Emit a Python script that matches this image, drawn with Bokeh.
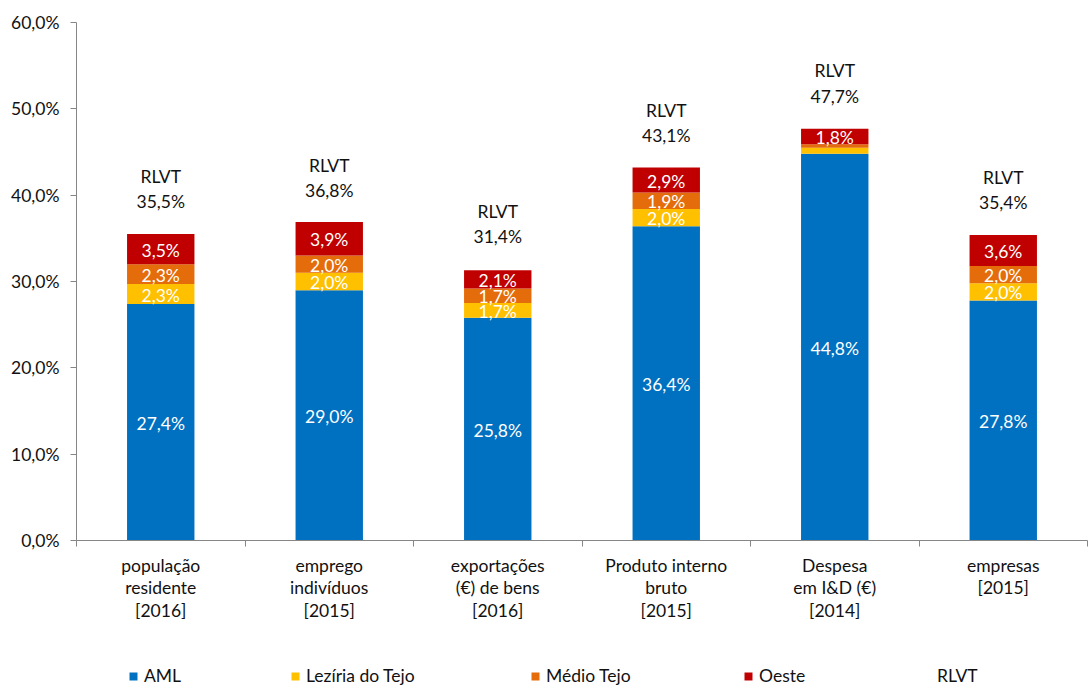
from bokeh.plotting import figure
from bokeh.layouts import column
from bokeh.models import (ColumnDataSource, Range1d, FixedTicker, CustomJSTickFormatter,
                          Legend, LegendItem)
from bokeh.core.properties import value
from bokeh.embed import file_html
from bokeh.resources import INLINE

categories = ["população\nresidente\n[2016]", "emprego\nindivíduos\n[2015]",
              "exportações\n(€) de bens\n[2016]", "Produto interno\nbruto\n[2015]",
              "Despesa\nem I&D (€)\n[2014]", "empresas\n[2015]"]
series_names = ["AML", "Lezíria do Tejo", "Médio Tejo", "Oeste"]
aml = [27.4, 29.0, 25.8, 36.4, 44.8, 27.8]
leziria = [2.3, 2.0, 1.7, 2.0, 0.7, 2.0]
medio = [2.3, 2.0, 1.7, 1.9, 0.4, 2.0]
oeste = [3.5, 3.9, 2.1, 2.9, 1.8, 3.6]
rlvt = [35.5, 36.8, 31.4, 43.1, 47.7, 35.4]
y_ticks = [0, 10, 20, 30, 40, 50, 60]

colors = ["#0070C0", "#FFC000", "#E46C0A", "#C00000"]
FONT = "Lato"
FS = "17.5px"

def fmt(v):
    return f"{v:.1f}".replace(".", ",") + "%"

n = len(categories)
xs = [i + 0.5 for i in range(n)]
data = dict(x=xs, AML=aml, LEZ=leziria, MED=medio, OES=oeste, RLVT=rlvt)
src = ColumnDataSource(data)

p = figure(width=1088, height=640, output_backend="svg", toolbar_location=None,
           x_range=Range1d(0, n), y_range=Range1d(0, 60),
           min_border_left=76, min_border_right=1, min_border_top=22, min_border_bottom=100)
p.xgrid.visible = False
p.ygrid.visible = False
p.outline_line_color = None
p.background_fill_color = "white"
p.border_fill_color = "white"

keys = ["AML", "LEZ", "MED", "OES"]
renderers = p.vbar_stack(keys, x="x", width=0.4, source=src, color=colors, line_color=None)

# segment labels
vals = [aml, leziria, medio, oeste]
lx, ly, lt = [], [], []
base = [0.0] * n
for s in vals:
    for i in range(n):
        if s[i] >= 1.0:
            lx.append(xs[i]); ly.append(base[i] + s[i] / 2); lt.append(fmt(s[i]))
        base[i] += s[i]
seg_src = ColumnDataSource(dict(x=lx, y=ly, t=lt))
p.text(x="x", y="y", text="t", source=seg_src, text_color="white", text_align="center",
       text_baseline="middle", text_font=value(FONT), text_font_size=FS, y_offset=1)

# RLVT total labels
tot_src = ColumnDataSource(dict(x=xs, y=rlvt, t=["RLVT\n" + fmt(v) for v in rlvt]))
p.text(x="x", y="y", text="t", source=tot_src, text_color="#111111", text_align="center",
       text_baseline="bottom", text_font=value(FONT), text_font_size=FS,
       y_offset=-22, text_line_height=1.2)

# y axis
ya = p.yaxis[0]
ya.ticker = FixedTicker(ticks=y_ticks)
ya.formatter = CustomJSTickFormatter(code="return tick.toFixed(1).replace('.', ',') + '%';")
ya.axis_line_color = "#868686"
ya.major_tick_line_color = "#868686"
ya.major_tick_out = 6
ya.major_tick_in = 0
ya.minor_tick_line_color = None
ya.major_label_text_font = FONT
ya.major_label_text_font_size = FS
ya.major_label_text_color = "#111111"
ya.major_label_standoff = 11

# x axis
xa = p.xaxis[0]
xa.ticker = FixedTicker(ticks=xs, minor_ticks=list(range(n + 1)))
xa.formatter = CustomJSTickFormatter(args=dict(labels=categories),
                                     code="return labels[Math.floor(tick)];")
xa.axis_line_color = "#868686"
xa.major_tick_line_color = None
xa.minor_tick_line_color = "#868686"
xa.minor_tick_out = 6
xa.minor_tick_in = 0
xa.major_label_text_font = FONT
xa.major_label_text_font_size = FS
xa.major_label_text_color = "#111111"
xa.major_label_standoff = 8
xa.major_label_text_line_height = 1.08

# legend strip (renderers use the real data but their ranges keep the bars out of view)
lf = figure(width=1088, height=46, output_backend="svg", toolbar_location=None,
            x_range=Range1d(100, 101), y_range=Range1d(1000, 1001),
            min_border_left=0, min_border_right=0, min_border_top=0, min_border_bottom=0)
lf.axis.visible = False
lf.xgrid.visible = False
lf.ygrid.visible = False
lf.outline_line_color = None
leg_cols = keys + ["RLVT"]
leg_colors = colors + [None]
legend_x = [52, 214, 454, 667, 845]
names = series_names + ["RLVT"]
for col, c, name, lxp in zip(leg_cols, leg_colors, names, legend_x):
    if c is None:
        r = lf.vbar(x="x", top=col, width=0.4, source=src, fill_alpha=0, line_alpha=0)
    else:
        r = lf.vbar(x="x", top=col, width=0.4, source=src, color=c, line_color=None)
    lg = Legend(items=[LegendItem(label=name, renderers=[r])], location=(lxp, 0),
                orientation="horizontal", padding=0, margin=0, border_line_color=None,
                background_fill_alpha=0, glyph_width=10, glyph_height=10, label_standoff=6,
                label_text_font=FONT, label_text_font_size=FS, label_text_color="#111111",
                label_height=16)
    lf.add_layout(lg, "center")

layout = column(p, lf, spacing=0)
open("out.html", "w").write(file_html(layout, INLINE))
